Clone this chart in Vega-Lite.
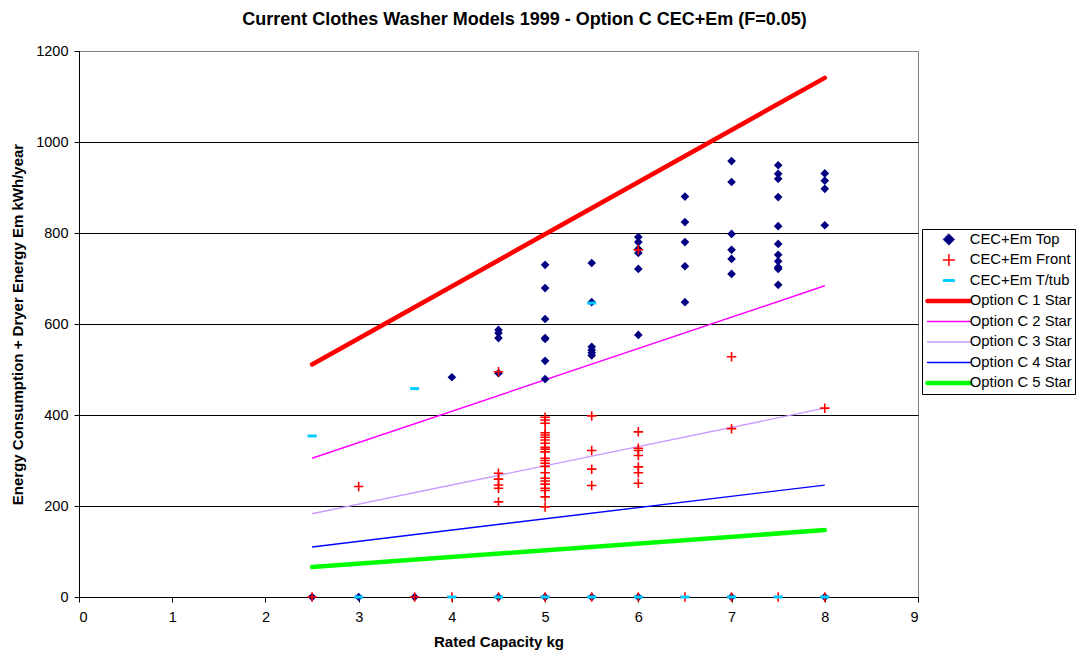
{
  "$schema": "https://vega.github.io/schema/vega-lite/v6.json",
  "width": 839,
  "height": 546,
  "autosize": {"type": "none"},
  "padding": {"left": 79, "top": 51, "right": 160, "bottom": 58},
  "background": "white",
  "title": {"text": "Current Clothes Washer Models 1999 - Option C CEC+Em (F=0.05)", "font": "Liberation Sans", "fontSize": 18, "fontWeight": "bold", "color": "black", "anchor": "middle", "dx": 26, "offset": 14},
  "config": {
    "font": "Liberation Sans",
    "view": {"stroke": "#808080", "strokeWidth": 1},
    "axis": {"domainColor": "black", "tickColor": "black", "labelColor": "black", "titleColor": "black", "labelFont": "Liberation Sans", "titleFont": "Liberation Sans", "labelFontSize": 14.5, "titleFontSize": 15, "titleFontWeight": "bold", "tickSize": 5, "labelFontWeight": "normal"}
  },
  "data": {"values": [
    {"s": "Option C 1 Star", "x": 2.5, "y": 511}, {"s": "Option C 1 Star", "x": 8, "y": 1141},
    {"s": "Option C 2 Star", "x": 2.5, "y": 305}, {"s": "Option C 2 Star", "x": 8, "y": 684},
    {"s": "Option C 3 Star", "x": 2.5, "y": 183}, {"s": "Option C 3 Star", "x": 8, "y": 415},
    {"s": "Option C 4 Star", "x": 2.5, "y": 110}, {"s": "Option C 4 Star", "x": 8, "y": 246},
    {"s": "Option C 5 Star", "x": 2.5, "y": 66}, {"s": "Option C 5 Star", "x": 8, "y": 147},
    {"s": "CEC+Em Top", "x": 2.5, "y": 0}, {"s": "CEC+Em Top", "x": 3, "y": 0}, {"s": "CEC+Em Top", "x": 3.6, "y": 0},
    {"s": "CEC+Em Top", "x": 4, "y": 483},
    {"s": "CEC+Em Top", "x": 4.5, "y": 587}, {"s": "CEC+Em Top", "x": 4.5, "y": 580}, {"s": "CEC+Em Top", "x": 4.5, "y": 569}, {"s": "CEC+Em Top", "x": 4.5, "y": 492}, {"s": "CEC+Em Top", "x": 4.5, "y": 0},
    {"s": "CEC+Em Top", "x": 5, "y": 730}, {"s": "CEC+Em Top", "x": 5, "y": 679}, {"s": "CEC+Em Top", "x": 5, "y": 611}, {"s": "CEC+Em Top", "x": 5, "y": 569}, {"s": "CEC+Em Top", "x": 5, "y": 567}, {"s": "CEC+Em Top", "x": 5, "y": 519}, {"s": "CEC+Em Top", "x": 5, "y": 479}, {"s": "CEC+Em Top", "x": 5, "y": 0},
    {"s": "CEC+Em Top", "x": 5.5, "y": 734}, {"s": "CEC+Em Top", "x": 5.5, "y": 648}, {"s": "CEC+Em Top", "x": 5.5, "y": 550}, {"s": "CEC+Em Top", "x": 5.5, "y": 543}, {"s": "CEC+Em Top", "x": 5.5, "y": 537}, {"s": "CEC+Em Top", "x": 5.5, "y": 531}, {"s": "CEC+Em Top", "x": 5.5, "y": 0},
    {"s": "CEC+Em Top", "x": 6, "y": 791}, {"s": "CEC+Em Top", "x": 6, "y": 780}, {"s": "CEC+Em Top", "x": 6, "y": 765}, {"s": "CEC+Em Top", "x": 6, "y": 756}, {"s": "CEC+Em Top", "x": 6, "y": 721}, {"s": "CEC+Em Top", "x": 6, "y": 576}, {"s": "CEC+Em Top", "x": 6, "y": 0},
    {"s": "CEC+Em Top", "x": 6.5, "y": 880}, {"s": "CEC+Em Top", "x": 6.5, "y": 824}, {"s": "CEC+Em Top", "x": 6.5, "y": 780}, {"s": "CEC+Em Top", "x": 6.5, "y": 727}, {"s": "CEC+Em Top", "x": 6.5, "y": 648},
    {"s": "CEC+Em Top", "x": 7, "y": 958}, {"s": "CEC+Em Top", "x": 7, "y": 912}, {"s": "CEC+Em Top", "x": 7, "y": 798}, {"s": "CEC+Em Top", "x": 7, "y": 763}, {"s": "CEC+Em Top", "x": 7, "y": 743}, {"s": "CEC+Em Top", "x": 7, "y": 710}, {"s": "CEC+Em Top", "x": 7, "y": 0},
    {"s": "CEC+Em Top", "x": 7.5, "y": 949}, {"s": "CEC+Em Top", "x": 7.5, "y": 930}, {"s": "CEC+Em Top", "x": 7.5, "y": 919}, {"s": "CEC+Em Top", "x": 7.5, "y": 879}, {"s": "CEC+Em Top", "x": 7.5, "y": 815}, {"s": "CEC+Em Top", "x": 7.5, "y": 776}, {"s": "CEC+Em Top", "x": 7.5, "y": 752}, {"s": "CEC+Em Top", "x": 7.5, "y": 738}, {"s": "CEC+Em Top", "x": 7.5, "y": 725}, {"s": "CEC+Em Top", "x": 7.5, "y": 721}, {"s": "CEC+Em Top", "x": 7.5, "y": 686},
    {"s": "CEC+Em Top", "x": 8, "y": 931}, {"s": "CEC+Em Top", "x": 8, "y": 915}, {"s": "CEC+Em Top", "x": 8, "y": 897}, {"s": "CEC+Em Top", "x": 8, "y": 817}, {"s": "CEC+Em Top", "x": 8, "y": 0},
    {"s": "CEC+Em Front", "x": 2.5, "y": 0}, {"s": "CEC+Em Front", "x": 3, "y": 243}, {"s": "CEC+Em Front", "x": 3.6, "y": 0}, {"s": "CEC+Em Front", "x": 4, "y": 0},
    {"s": "CEC+Em Front", "x": 4.5, "y": 495}, {"s": "CEC+Em Front", "x": 4.5, "y": 272}, {"s": "CEC+Em Front", "x": 4.5, "y": 259}, {"s": "CEC+Em Front", "x": 4.5, "y": 246}, {"s": "CEC+Em Front", "x": 4.5, "y": 239}, {"s": "CEC+Em Front", "x": 4.5, "y": 209}, {"s": "CEC+Em Front", "x": 4.5, "y": 0},
    {"s": "CEC+Em Front", "x": 5, "y": 395}, {"s": "CEC+Em Front", "x": 5, "y": 389}, {"s": "CEC+Em Front", "x": 5, "y": 382}, {"s": "CEC+Em Front", "x": 5, "y": 361}, {"s": "CEC+Em Front", "x": 5, "y": 356}, {"s": "CEC+Em Front", "x": 5, "y": 351}, {"s": "CEC+Em Front", "x": 5, "y": 345}, {"s": "CEC+Em Front", "x": 5, "y": 338}, {"s": "CEC+Em Front", "x": 5, "y": 329}, {"s": "CEC+Em Front", "x": 5, "y": 325}, {"s": "CEC+Em Front", "x": 5, "y": 319}, {"s": "CEC+Em Front", "x": 5, "y": 305}, {"s": "CEC+Em Front", "x": 5, "y": 300}, {"s": "CEC+Em Front", "x": 5, "y": 294}, {"s": "CEC+Em Front", "x": 5, "y": 287}, {"s": "CEC+Em Front", "x": 5, "y": 273}, {"s": "CEC+Em Front", "x": 5, "y": 261}, {"s": "CEC+Em Front", "x": 5, "y": 255}, {"s": "CEC+Em Front", "x": 5, "y": 248}, {"s": "CEC+Em Front", "x": 5, "y": 239}, {"s": "CEC+Em Front", "x": 5, "y": 234}, {"s": "CEC+Em Front", "x": 5, "y": 220}, {"s": "CEC+Em Front", "x": 5, "y": 198}, {"s": "CEC+Em Front", "x": 5, "y": 0},
    {"s": "CEC+Em Front", "x": 5.5, "y": 398}, {"s": "CEC+Em Front", "x": 5.5, "y": 322}, {"s": "CEC+Em Front", "x": 5.5, "y": 281}, {"s": "CEC+Em Front", "x": 5.5, "y": 245}, {"s": "CEC+Em Front", "x": 5.5, "y": 0},
    {"s": "CEC+Em Front", "x": 6, "y": 763}, {"s": "CEC+Em Front", "x": 6, "y": 363}, {"s": "CEC+Em Front", "x": 6, "y": 327}, {"s": "CEC+Em Front", "x": 6, "y": 322}, {"s": "CEC+Em Front", "x": 6, "y": 311}, {"s": "CEC+Em Front", "x": 6, "y": 286}, {"s": "CEC+Em Front", "x": 6, "y": 273}, {"s": "CEC+Em Front", "x": 6, "y": 250}, {"s": "CEC+Em Front", "x": 6, "y": 0},
    {"s": "CEC+Em Front", "x": 6.5, "y": 0}, {"s": "CEC+Em Front", "x": 7, "y": 528}, {"s": "CEC+Em Front", "x": 7, "y": 370}, {"s": "CEC+Em Front", "x": 7, "y": 0}, {"s": "CEC+Em Front", "x": 7.5, "y": 0}, {"s": "CEC+Em Front", "x": 8, "y": 415}, {"s": "CEC+Em Front", "x": 8, "y": 0},
    {"s": "CEC+Em T/tub", "x": 2.5, "y": 354}, {"s": "CEC+Em T/tub", "x": 3, "y": 0}, {"s": "CEC+Em T/tub", "x": 3.6, "y": 458}, {"s": "CEC+Em T/tub", "x": 4, "y": 0}, {"s": "CEC+Em T/tub", "x": 4.5, "y": 0}, {"s": "CEC+Em T/tub", "x": 5, "y": 0}, {"s": "CEC+Em T/tub", "x": 5.5, "y": 646}, {"s": "CEC+Em T/tub", "x": 5.5, "y": 0}, {"s": "CEC+Em T/tub", "x": 6, "y": 0}, {"s": "CEC+Em T/tub", "x": 6.5, "y": 0}, {"s": "CEC+Em T/tub", "x": 7, "y": 0}, {"s": "CEC+Em T/tub", "x": 7.5, "y": 0}, {"s": "CEC+Em T/tub", "x": 8, "y": 0}
  ]},
  "encoding": {
    "x": {"field": "x", "type": "quantitative", "scale": {"domain": [0, 9], "nice": false, "zero": false},
      "axis": {"title": "Rated Capacity kg", "values": [0, 1, 2, 3, 4, 5, 6, 7, 8, 9], "grid": false, "labelPadding": 8, "titlePadding": 11, "format": "d"}},
    "y": {"field": "y", "type": "quantitative", "scale": {"domain": [0, 1200], "nice": false},
      "axis": {"title": "Energy Consumption + Dryer Energy Em kWh/year", "values": [0, 200, 400, 600, 800, 1000, 1200], "grid": true, "gridColor": {"condition": {"test": "datum.value === 1200", "value": "#808080"}, "value": "black"}, "gridWidth": 1, "labelPadding": 6, "titlePadding": 10, "format": "d"}},
    "color": {"field": "s", "type": "nominal",
      "scale": {"domain": ["CEC+Em Top", "CEC+Em Front", "CEC+Em T/tub", "Option C 1 Star", "Option C 2 Star", "Option C 3 Star", "Option C 4 Star", "Option C 5 Star"],
                "range": ["#000080", "#FF0000", "#00CCFF", "#FF0000", "#FF00FF", "#CC99FF", "#0000FF", "#00FF00"]},
      "legend": {"title": null, "orient": "none", "legendX": 843, "legendY": 178, "columns": 1, "padding": 3, "strokeColor": "black", "fillColor": "white",
        "labelFont": "Liberation Sans", "labelFontSize": 14.8, "labelColor": "black", "symbolSize": 1156, "clipHeight": 15, "rowPadding": 4.5, "symbolOffset": 16.5, "labelOffset": 13.5,
        "encode": {"symbols": {"update": {
          "shape": {"signal": "datum.value === 'CEC+Em Top' ? 'M0,-0.34L0.34,0L0,0.34L-0.34,0Z' : datum.value === 'CEC+Em Front' ? 'M-0.33,0L0.33,0M0,-0.33L0,0.33' : datum.value === 'CEC+Em T/tub' ? 'M-0.28,0L0.28,0' : 'M-1.26,0L1.26,0'"},
          "fill": {"signal": "datum.value === 'CEC+Em Top' ? '#000080' : 'transparent'"},
          "stroke": {"signal": "['#000080', '#FF0000', '#00CCFF', '#FF0000', '#FF00FF', '#CC99FF', '#0000FF', '#00FF00'][indexof(['CEC+Em Top', 'CEC+Em Front', 'CEC+Em T/tub', 'Option C 1 Star', 'Option C 2 Star', 'Option C 3 Star', 'Option C 4 Star', 'Option C 5 Star'], datum.value)]"},
          "strokeWidth": {"signal": "datum.value === 'Option C 1 Star' || datum.value === 'Option C 5 Star' ? 4.5 : datum.value === 'CEC+Em T/tub' ? 3 : datum.value === 'CEC+Em Top' ? 0.5 : 1.5"},
          "strokeCap": {"value": "round"},
          "size": {"value": 1156},
          "opacity": {"value": 1}
        }}}}
    }
  },
  "layer": [
    {"transform": [{"filter": "datum.s === 'Option C 2 Star' || datum.s === 'Option C 3 Star' || datum.s === 'Option C 4 Star'"}],
     "mark": {"type": "line", "strokeWidth": 1.4}},
    {"transform": [{"filter": "datum.s === 'Option C 1 Star' || datum.s === 'Option C 5 Star'"}],
     "mark": {"type": "line", "strokeWidth": 4.5, "strokeCap": "round"}},
    {"transform": [{"filter": "datum.s === 'CEC+Em Top'"}],
     "mark": {"type": "point", "shape": "diamond", "filled": true, "size": 75, "opacity": 1}},
    {"transform": [{"filter": "datum.s === 'CEC+Em Front'"}],
     "mark": {"type": "point", "shape": "M-1,0L1,0M0,-1L0,1", "filled": false, "size": 90, "strokeWidth": 1.6, "opacity": 1}},
    {"transform": [{"filter": "datum.s === 'CEC+Em T/tub'"}],
     "mark": {"type": "point", "shape": "M-1,0L1,0", "filled": false, "size": 81, "strokeWidth": 3, "opacity": 1}}
  ]
}
